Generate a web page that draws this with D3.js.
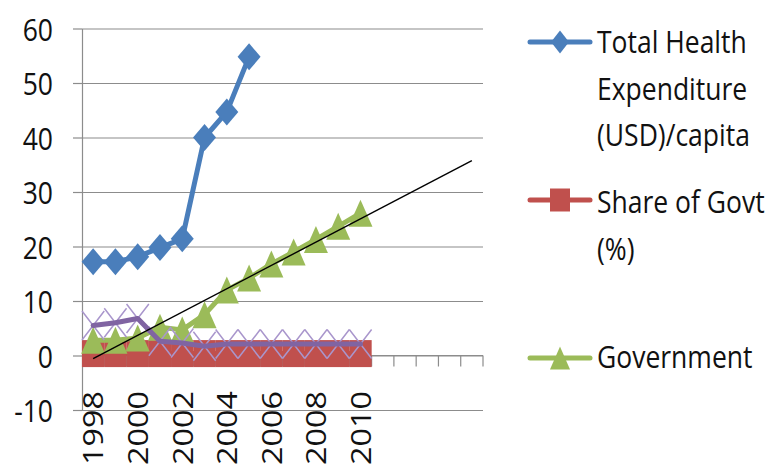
<!DOCTYPE html>
<html>
<head>
<meta charset="utf-8">
<script src="https://cdn.jsdelivr.net/npm/d3@7"></script>
<style>
  html, body { margin: 0; padding: 0; background: #fff; }
  svg { display: block; }
  text { font-family: "Open Sans", "Liberation Sans", sans-serif; fill: #111; }
</style>
</head>
<body>
<svg id="chart" width="771" height="469"></svg>
<script>
// Years on the category axis (the axis runs on past the last data year)
const categories = ["1998","1999","2000","2001","2002","2003","2004","2005",
                    "2006","2007","2008","2009","2010","2011","2012","2013","2014","2015"];
const xTickLabels = ["1998","2000","2002","2004","2006","2008","2010"];
const yTickValues = [-10, 0, 10, 20, 30, 40, 50, 60];

// Series values, one per year starting at 1998
const totalHealthExpenditure = [17.2, 17.2, 18.1, 19.8, 21.4, 40.0, 44.7, 54.8];
const shareOfGovt = [0.35, 0.35, 0.35, 0.35, 0.35, 0.35, 0.35, 0.35, 0.35, 0.35, 0.35, 0.35, 0.35];
const government = [2.8, 2.8, 3.2, 5.2, 4.7, 7.5, 12.0, 14.2, 16.8, 19.0, 21.3, 23.7, 26.1];
const fourthSeries = [5.5, 6.0, 6.8, 2.6, 2.3, 1.7, 2.1, 2.1, 2.1, 2.1, 2.1, 2.1, 2.1];

const legendLabels = [
  ["Total Health", "Expenditure", "(USD)/capita"],
  ["Share of Govt", "(%)"],
  ["Government"]
];

const colors = {
  blue: "#4A7EBB", red: "#C0504D", green: "#9BBB59",
  purple: "#8064A2", lilac: "#A996CC", grid: "#8C8C8C"
};

const svg = d3.select("#chart");
const plot = { left: 82, right: 483, top: 28.5, bottom: 410 };

const x = d3.scaleBand().domain(categories).range([plot.left, plot.right]).padding(0);
const y = d3.scaleLinear().domain([-10, 60]).range([plot.bottom, plot.top]);
const cx = c => x(c) + x.bandwidth() / 2;

// Horizontal gridlines
svg.append("g")
  .attr("transform", `translate(${plot.left},0)`)
  .call(d3.axisLeft(y).tickValues(yTickValues).tickSize(-(plot.right - plot.left)).tickFormat(""))
  .call(g => g.select(".domain").remove())
  .call(g => g.selectAll("line").attr("stroke", colors.grid).attr("stroke-width", 1.2));

// Value axis with outer tick marks
const yAxis = svg.append("g")
  .attr("transform", `translate(${plot.left},0)`)
  .call(d3.axisLeft(y).tickValues(yTickValues).tickSize(9).tickSizeOuter(0).tickFormat(""));
yAxis.selectAll("line, path").attr("stroke", colors.grid).attr("stroke-width", 1.2);

svg.append("g").selectAll("text")
  .data(yTickValues)
  .join("text")
  .attr("transform", d => `translate(53,${y(d)}) scale(1,1.17)`)
  .attr("text-anchor", "end")
  .attr("dominant-baseline", "central")
  .style("font-size", "26.5px")
  .text(d => String(d));

// Category axis crossing at zero, ticks between categories
const catAxis = svg.append("g");
catAxis.append("line")
  .attr("x1", plot.left).attr("x2", plot.right)
  .attr("y1", y(0)).attr("y2", y(0))
  .attr("stroke", colors.grid).attr("stroke-width", 1.2);
catAxis.selectAll("line.tick")
  .data(categories.slice(1).concat(["__end"]))
  .join("line")
  .attr("class", "tick")
  .attr("x1", d => d === "__end" ? plot.right : x(d))
  .attr("x2", d => d === "__end" ? plot.right : x(d))
  .attr("y1", y(0)).attr("y2", y(0) + 11)
  .attr("stroke", colors.grid).attr("stroke-width", 1.2);

svg.append("g").selectAll("text")
  .data(xTickLabels)
  .join("text")
  .attr("transform", d => `translate(${cx(d)},391) scale(1,1.22) rotate(-90)`)
  .attr("text-anchor", "end")
  .attr("dominant-baseline", "central")
  .style("font-size", "26.5px")
  .text(d => d);

// Marker shapes
const shapes = {
  diamond: (w, h) => `M0,${-h}L${w},0L0,${h}L${-w},0Z`,
  square: (w, h) => `M${-w},${-h}H${w}V${h}H${-w}Z`,
  triangle: (w, h) => `M0,${-h}L${w},${h}L${-w},${h}Z`,
  cross: (w, h) => `M${-w},${-h}L${w},${h}M${-w},${h}L${w},${-h}`
};

function drawSeries(values, opts) {
  const pts = values.map((v, i) => [cx(categories[i]), y(v)]);
  const g = svg.append("g");
  if (opts.line) {
    g.append("path")
      .attr("d", d3.line()(pts))
      .attr("fill", "none")
      .attr("stroke", opts.line)
      .attr("stroke-width", 5)
      .attr("stroke-linejoin", "round")
      .attr("stroke-linecap", "round");
  }
  g.selectAll("path.mk")
    .data(pts)
    .join("path")
    .attr("class", "mk")
    .attr("transform", d => `translate(${d[0]},${d[1]})`)
    .attr("d", shapes[opts.shape](opts.w, opts.h))
    .attr("fill", opts.fill || "none")
    .attr("stroke", opts.stroke || "none")
    .attr("stroke-width", opts.strokeWidth || 0);
}

drawSeries(totalHealthExpenditure, { line: colors.blue, shape: "diamond", w: 11.5, h: 13.5, fill: colors.blue });
drawSeries(shareOfGovt, { line: colors.red, shape: "square", w: 11.2, h: 13.5, fill: colors.red });
drawSeries(government, { line: colors.green, shape: "triangle", w: 12, h: 13.5, fill: colors.green });
drawSeries(fourthSeries, { line: null, shape: "cross", w: x.bandwidth() / 2, h: 14.5, stroke: colors.lilac, strokeWidth: 1.5 });
drawSeries(fourthSeries, { line: colors.purple, shape: "cross", w: 0, h: 0 });

// Linear trend of the Government series, projected to the end of the axis
const n = government.length;
const xs = d3.range(n);
const mx = d3.mean(xs), my = d3.mean(government);
const slope = d3.sum(xs, i => (i - mx) * (government[i] - my)) / d3.sum(xs, i => (i - mx) ** 2);
const intercept = my - slope * mx;
const lastIdx = categories.length - 1;
svg.append("line")
  .attr("x1", cx(categories[0])).attr("y1", y(intercept))
  .attr("x2", cx(categories[lastIdx])).attr("y2", y(intercept + slope * lastIdx))
  .attr("stroke", "#000").attr("stroke-width", 1.4);

// Legend
const legendRows = [
  { color: colors.blue, shape: "diamond", my: 42, baselines: [53, 99.5, 146] },
  { color: colors.red, shape: "square", my: 200, baselines: [213, 259.5] },
  { color: colors.green, shape: "triangle", my: 358, baselines: [368] }
];
const lg = svg.append("g");
legendRows.forEach((r, i) => {
  lg.append("line")
    .attr("x1", 530).attr("x2", 590).attr("y1", r.my).attr("y2", r.my)
    .attr("stroke", r.color).attr("stroke-width", 5).attr("stroke-linecap", "round");
  const w = r.shape === "diamond" ? 9 : 10;
  lg.append("path")
    .attr("transform", `translate(560,${r.my})`)
    .attr("d", shapes[r.shape](w, 11.5))
    .attr("fill", r.color);
  legendLabels[i].forEach((t, j) => {
    lg.append("text")
      .attr("transform", `translate(597,${r.baselines[j]}) scale(1,1.17)`)
      .style("font-size", "26.5px")
      .text(t);
  });
});
</script>
</body>
</html>
